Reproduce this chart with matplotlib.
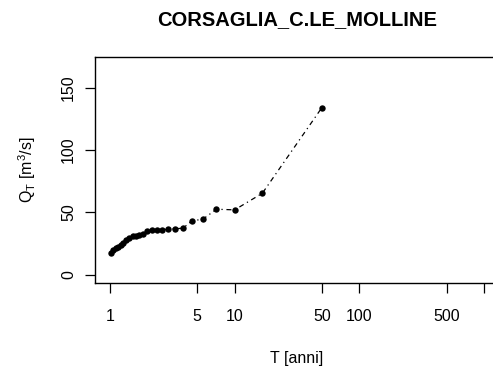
import matplotlib
matplotlib.use("Agg")
import matplotlib.pyplot as plt

plt.rcParams['font.family'] = ['Liberation Sans', 'DejaVu Sans']

# return periods (Hazen plotting positions, n = 25) and discharges
T_anni = [1.02, 1.06, 1.11, 1.16, 1.22, 1.28, 1.35, 1.43, 1.52, 1.61,
          1.72, 1.85, 2.0, 2.17, 2.38, 2.63, 2.94, 3.33, 3.85, 4.55,
          5.56, 7.14, 10.0, 16.67, 50.0]
Q_T = [17.5, 19.5, 21.0, 22.0, 23.5, 25.5, 27.5, 29.5, 31.0, 31.0,
       31.5, 33.0, 35.0, 36.0, 36.0, 36.0, 36.5, 36.8, 37.3, 43.2,
       44.5, 52.5, 52.0, 65.3, 134.0]

xTicks = [1, 5, 10, 50, 100, 500, 1000]
xTickLabels = ["1", "5", "10", "50", "100", "500", ""]
yTicks = [0, 50, 100, 150]

W, H = 493, 369
fig = plt.figure(figsize=(W / 100, H / 100), dpi=100)
# plot region runs past the right edge of the picture (cropped R device)
left, right, top, bottom = 95, 499, 57, 283
ax = fig.add_axes([left / W, 1 - bottom / H, (right - left) / W, (bottom - top) / H])

ax.plot(T_anni, Q_T, color="black", lw=0.9, linestyle=(0, (1, 3, 4, 3)),
        marker="o", markersize=4.6, markeredgewidth=0)

ax.set_xscale("log")
ax.set_xlim(10 ** -0.12, 10 ** 3.12)
ax.set_ylim(-6.72, 174.72)

ax.set_xticks(xTicks)
ax.set_xticklabels(xTickLabels)
ax.minorticks_off()
ax.set_yticks(yTicks)
ax.set_yticklabels([str(v) for v in yTicks], rotation=90, va="center")
ax.tick_params(length=7.5, width=0.9, labelsize=11.5, pad=6)
ax.tick_params(axis="x", pad=11.5)

for s in ax.spines.values():
    s.set_linewidth(1.0)

ax.set_xlabel("T [anni]", fontsize=11.5, labelpad=19)
ax.set_ylabel(r"Q$_\mathregular{T}$ [m$^\mathregular{3}$/s]", fontsize=11.5, labelpad=17)

fig.text((left + right) / 2 / W, 1 - 20 / H, "CORSAGLIA_C.LE_MOLLINE",
         ha="center", va="center", fontsize=14.5, fontweight="bold")

fig.savefig("out.png", dpi=100)
